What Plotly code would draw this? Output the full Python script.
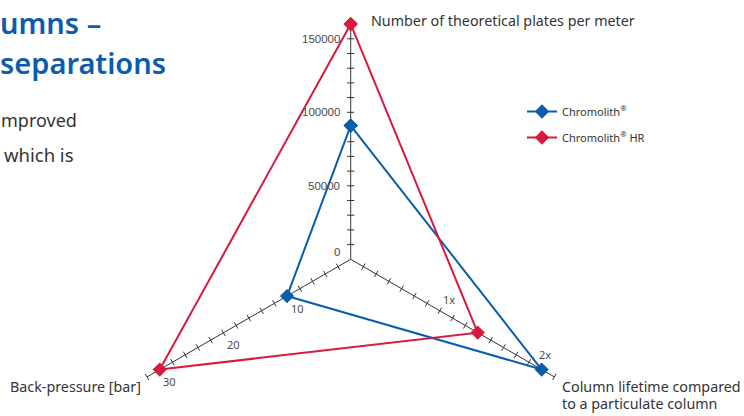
import math
import plotly.graph_objects as go

# ---------------- data ----------------
axis_names = ["Number of theoretical plates per meter",
              "Column lifetime compared",
              "Back-pressure [bar]"]
axis_name_line2 = "to a particulate column"
series_names = ["Chromolith<sup>®</sup>", "Chromolith<sup>®</sup> HR"]
chromolith = [91000, 2.0, 10]
chromolith_hr = [160000, 1.33, 30]
# value located at the 15th tick of each axis (plates, lifetime, pressure)
axis_ref_value = [150000, 2.0, 30]
plates_ticks = [0, 50000, 100000, 150000]
plates_tick_labels = ["0", "50000", "100000", "150000"]
lifetime_ticks = [1, 2]
lifetime_tick_labels = ["1x", "2x"]
pressure_ticks = [10, 20, 30]
pressure_tick_labels = ["10", "20", "30"]

# ---------------- geometry / style ----------------
W, H = 744, 416
S = 14.7                      # px per tick interval
CX, CY = 350.7, 259.3         # centre in px
ANGLES = [90, -30, 210]
N_TICKS = 16
REF_TICK = 15
BLUE = "#0b5cad"
RED = "#d7193d"
AXC = "#333333"
FONT = "Noto Sans"


def to_xy(i, value):
    u = value / axis_ref_value[i] * REF_TICK
    a = math.radians(ANGLES[i])
    return u * math.cos(a), u * math.sin(a)


fig = go.Figure()

# axis lines
ax_x, ax_y = [], []
for i in range(3):
    a = math.radians(ANGLES[i])
    ax_x += [0, N_TICKS * math.cos(a), None]
    ax_y += [0, N_TICKS * math.sin(a), None]
fig.add_trace(go.Scatter(x=ax_x, y=ax_y, mode="lines",
                         line=dict(color=AXC, width=1), hoverinfo="skip",
                         showlegend=False))

# tick marks
h = 3.6 / S
tk_x, tk_y = [], []
for i in range(3):
    a = math.radians(ANGLES[i])
    dx, dy = math.cos(a), math.sin(a)
    nx, ny = -dy, dx
    for k in range(1, N_TICKS + 1):
        px, py = k * dx, k * dy
        tk_x += [px - nx * h, px + nx * h, None]
        tk_y += [py - ny * h, py + ny * h, None]
fig.add_trace(go.Scatter(x=tk_x, y=tk_y, mode="lines",
                         line=dict(color=AXC, width=1), hoverinfo="skip",
                         showlegend=False))

# series
for name, vals, col in [(series_names[0], chromolith, BLUE),
                        (series_names[1], chromolith_hr, RED)]:
    pts = [to_xy(i, v) for i, v in enumerate(vals)]
    pts.append(pts[0])
    fig.add_trace(go.Scatter(
        x=[p[0] for p in pts], y=[p[1] for p in pts],
        mode="lines+markers", name=name, legendgroup=name,
        line=dict(color=col, width=2),
        marker=dict(symbol="diamond", size=11, color=col, line=dict(width=0)),
    ))

annotations = []
# plates tick labels
for v, lab in zip(plates_ticks, plates_tick_labels):
    x, y = to_xy(0, v)
    annotations.append(dict(x=x, y=y, xref="x", yref="y", text=lab,
                            showarrow=False, xanchor="right", yanchor="middle",
                            xshift=-8.5, yshift=7 if v == 0 else 0,
                            font=dict(family="Liberation Sans", size=11.5,
                                      color="#4a4a4a")))
for v, lab in zip(lifetime_ticks, lifetime_tick_labels):
    x, y = to_xy(1, v)
    annotations.append(dict(x=x, y=y, xref="x", yref="y", text=lab,
                            showarrow=False, xanchor="center", yanchor="middle",
                            xshift=3, yshift=15,
                            font=dict(family=FONT, size=11, color="#4a4a4a")))
for v, lab in zip(pressure_ticks, pressure_tick_labels):
    x, y = to_xy(2, v)
    annotations.append(dict(x=x, y=y, xref="x", yref="y", text=lab,
                            showarrow=False, xanchor="center", yanchor="middle",
                            xshift=10, yshift=-12,
                            font=dict(family=FONT, size=11, color="#4a4a4a")))


def paper_text(px, py, text, size, color, xanchor="left", weight=None,
               family=FONT):
    f = dict(family=family, size=size, color=color)
    if weight:
        f["weight"] = weight
    annotations.append(dict(x=px / W, y=1 - py / H, xref="paper", yref="paper",
                            text=text, showarrow=False, xanchor=xanchor,
                            yanchor="middle", font=f))


# axis titles
paper_text(369, 20, axis_names[0], 14.3, "#333333")
paper_text(560, 386, axis_names[1], 14.3, "#333333")
paper_text(560, 403, axis_name_line2, 14.3, "#333333")
paper_text(143, 386, axis_names[2], 14.3, "#333333", xanchor="right")

# cropped page text on the left
paper_text(-2, 22, "umns –", 29, BLUE, weight=600)
paper_text(-2, 62, "separations", 29, BLUE, weight=600)
paper_text(-1, 120, "mproved", 18, "#333333")
paper_text(2, 154, "which is", 18.5, "#333333")

fig.update_layout(
    width=W, height=H, autosize=False,
    margin=dict(l=0, r=0, t=0, b=0),
    paper_bgcolor="white", plot_bgcolor="white",
    xaxis=dict(range=[-CX / S, (W - CX) / S], visible=False, fixedrange=True),
    yaxis=dict(range=[-(H - CY) / S, CY / S], visible=False, fixedrange=True),
    showlegend=True,
    legend=dict(x=522 / W, y=1 - 97 / H, xanchor="left", yanchor="top",
                font=dict(family=FONT, size=11, color="#333333"),
                tracegroupgap=7, traceorder="grouped",
                bgcolor="rgba(0,0,0,0)", itemwidth=30),
    annotations=annotations,
)

fig.write_html("out.html",
               config={"displayModeBar": False},
               post_script="document.body.style.margin='0';"
                           "document.body.style.padding='0';")
